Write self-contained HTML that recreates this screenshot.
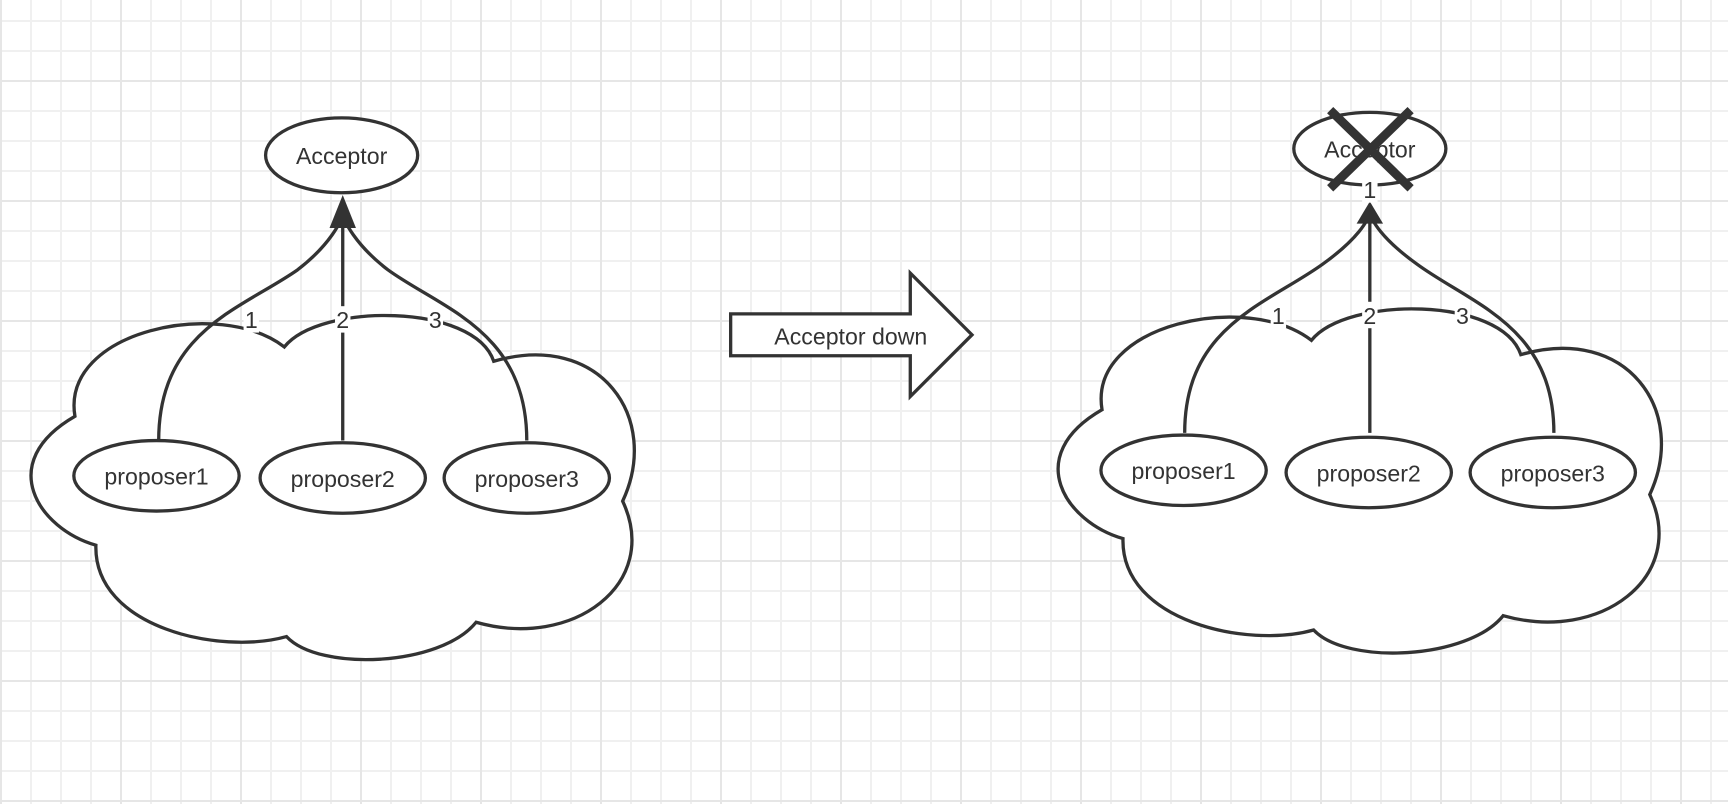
<!DOCTYPE html>
<html><head><meta charset="utf-8"><style>
html,body{margin:0;padding:0;width:1728px;height:804px;overflow:hidden;background:#fff;}
body{background-image:
linear-gradient(#e6e6e6 2px,transparent 2px),
linear-gradient(90deg,#e6e6e6 2px,transparent 2px),
linear-gradient(#f0f0f0 2px,transparent 2px),
linear-gradient(90deg,#f0f0f0 2px,transparent 2px);
background-size:120px 120px,120px 120px,30px 30px,30px 30px;
background-position:0 80px,0 0,0 20px,0 0;}
svg{position:absolute;left:0;top:0}
text{font-family:"Liberation Sans",sans-serif;fill:#333;}
</style></head><body>
<svg width="1728" height="804" viewBox="0 0 1568 730" preserveAspectRatio="none">
<defs>
<path id="cloud" d="M68,378 C55,300 200,270 258,315 C290,275 430,275 448,328 C545,300 600,380 565,455 C600,530 520,590 432,565 C400,605 290,610 260,578 C200,595 85,570 87,495 C35,480 -5,420 68,378 Z"/>
</defs>
<g fill="#fff" stroke="#333" stroke-width="3">
<use href="#cloud"/>
<use href="#cloud" transform="translate(932,-6)"/>
</g>
<g fill="none" stroke="#333" stroke-width="3">
<path d="M144,400 C144,300 220,280 270,245 C300,222 310,200 311,195"/>
<path d="M311,400 L311,195"/>
<path d="M478,400 C478,300 400,280 352,245 C322,222 312,200 311,195"/>
<path d="M1075,393 C1075,296 1150,276 1200,240 C1232,217 1242,200 1243,192"/>
<path d="M1243,393 L1243,192"/>
<path d="M1410,393 C1410,296 1335,276 1286,240 C1254,217 1244,200 1243,192"/>
</g>
<g fill="#333">
<polygon points="311,177 299,207 323,207"/>
<polygon points="1243,183 1231,203 1255,203"/>
</g>
<g fill="#fff" stroke="#333" stroke-width="3">
<ellipse cx="310" cy="141" rx="69" ry="34"/>
<ellipse cx="142" cy="432" rx="75" ry="32"/>
<ellipse cx="311" cy="434" rx="75" ry="32"/>
<ellipse cx="478" cy="434" rx="75" ry="32"/>
<ellipse cx="1243" cy="135" rx="69" ry="33"/>
<ellipse cx="1074" cy="427" rx="75" ry="32"/>
<ellipse cx="1242" cy="429" rx="75" ry="32"/>
<ellipse cx="1409" cy="429" rx="75" ry="32"/>
<polygon points="663,285 826,285 826,248 882,304 826,360 826,323 663,323"/>
</g>
<g fill="#fff">
<rect x="221" y="278" width="14" height="24"/><rect x="304" y="278" width="14" height="24"/><rect x="388" y="278" width="14" height="24"/>
<rect x="1153" y="274" width="14" height="24"/><rect x="1236" y="274" width="14" height="24"/><rect x="1320" y="274" width="14" height="24"/>
<rect x="1236" y="160" width="14" height="24"/>
</g>
<g font-size="21" text-anchor="middle">
<text x="310" y="149">Acceptor</text>
<text x="142" y="440">proposer1</text>
<text x="311" y="442">proposer2</text>
<text x="478" y="442">proposer3</text>
<text x="1243" y="143">Acceptor</text>
<text x="1074" y="435">proposer1</text>
<text x="1242" y="437">proposer2</text>
<text x="1409" y="437">proposer3</text>
<text x="772" y="313">Acceptor down</text>
<text x="228" y="298">1</text><text x="311" y="298">2</text><text x="395" y="298">3</text>
<text x="1160" y="294">1</text><text x="1243" y="294">2</text><text x="1327" y="294">3</text>
<text x="1243" y="180">1</text>
</g>
<g stroke="#333" stroke-width="8">
<line x1="1207" y1="100" x2="1280" y2="171"/>
<line x1="1280" y1="100" x2="1207" y2="171"/>
</g>
</svg>
</body></html>
